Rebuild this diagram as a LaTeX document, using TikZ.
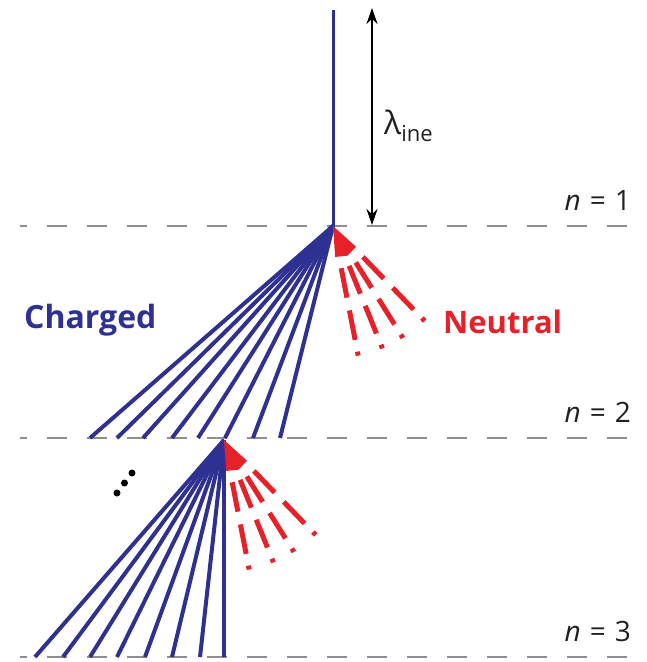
\documentclass[tikz,border=0pt]{standalone}
\usepackage{fontspec}
\setmainfont{Open Sans}
\usetikzlibrary{arrows.meta, calc, positioning}
\definecolor{blucarica}{HTML}{2E3192}
\definecolor{rossoneutro}{HTML}{E6212A}
\definecolor{grigiolivello}{HTML}{8E8E8E}
\definecolor{testoscuro}{HTML}{231F20}
\tikzset{
  livello/.style={grigiolivello, line width=2pt, dash pattern=on 20pt off 20pt, dash phase=13pt},
  carico/.style={blucarica, line width=4pt},
  neutro/.style={rossoneutro, line width=5pt, dash pattern=on 30pt off 13pt on 30pt off 12pt on 4pt off 20pt},
  etichettan/.style={testoscuro, font=\fontsize{28}{32}\selectfont, anchor=base east, inner sep=0pt}
}

\begin{document}
\begin{tikzpicture}[x=1pt, y=-1pt]
\useasboundingbox (0,0) rectangle (646,662);

% livelli di interazione
\foreach \yy/\nn in {226/1, 438/2, 657/3}{
  \coordinate (sx\nn) at (20,\yy);
  \coordinate (dx\nn) at (640,\yy);
  \draw[livello] (sx\nn) -- (dx\nn);
  \node[etichettan] (n\nn) at (631,\yy-16) {\textit{n}\hspace{9pt}=\hspace{9pt}\nn};
}

% vertici di interazione
\coordinate (vertice1) at (333,226);
\coordinate (vertice2) at (224,440);

% particella incidente
\coordinate (inizio) at (333,10);
\draw[carico, line width=3pt] (inizio) -- (vertice1);

% libero cammino medio
\coordinate (lambdasu) at (372,8);
\coordinate (lambdagiu) at (372,225);
\draw[{Stealth[length=16pt,width=11pt]}-{Stealth[length=16pt,width=11pt]}, line width=2.4pt] (lambdasu) -- (lambdagiu);
\node[anchor=base west, inner sep=0pt, testoscuro, font=\fontsize{32}{36}\selectfont] (lambda) at (384,134)
  {λ\raisebox{-7pt}{\fontsize{22}{24}\selectfont ine}};

% secondarie cariche
\foreach \x in {90,117,143,172,198,225,253,280}{
  \draw[carico] (vertice1) -- (\x,438);
}
\foreach \x in {35,63,90,117,145,172,200,224}{
  \draw[carico] (vertice2) -- (\x,657);
}

% secondarie neutre
\foreach \v in {vertice1, vertice2}{
  \fill[rossoneutro, shift={(\v)}] (0,0) -- (86:31) -- (64:33) -- (42:31) -- cycle;
  \foreach \a in {79,68,58,46}{
    \draw[neutro] ($(\v)+(\a:43)$) -- ($(\v)+(\a:133)$);
  }
}

% puntini
\foreach \x/\y in {117/493, 124.5/483, 132/473}{
  \fill[black] (\x,\y) circle (3.5pt);
}

% etichette
\node[anchor=base west, inner sep=0pt, blucarica, font=\bfseries\fontsize{32}{36}\selectfont] (carica) at (24,328) {Charged};
\node[anchor=base west, inner sep=0pt, rossoneutro, font=\bfseries\fontsize{31}{36}\selectfont] (neutra) at (443,333) {Neutral};

\end{tikzpicture}
\end{document}
